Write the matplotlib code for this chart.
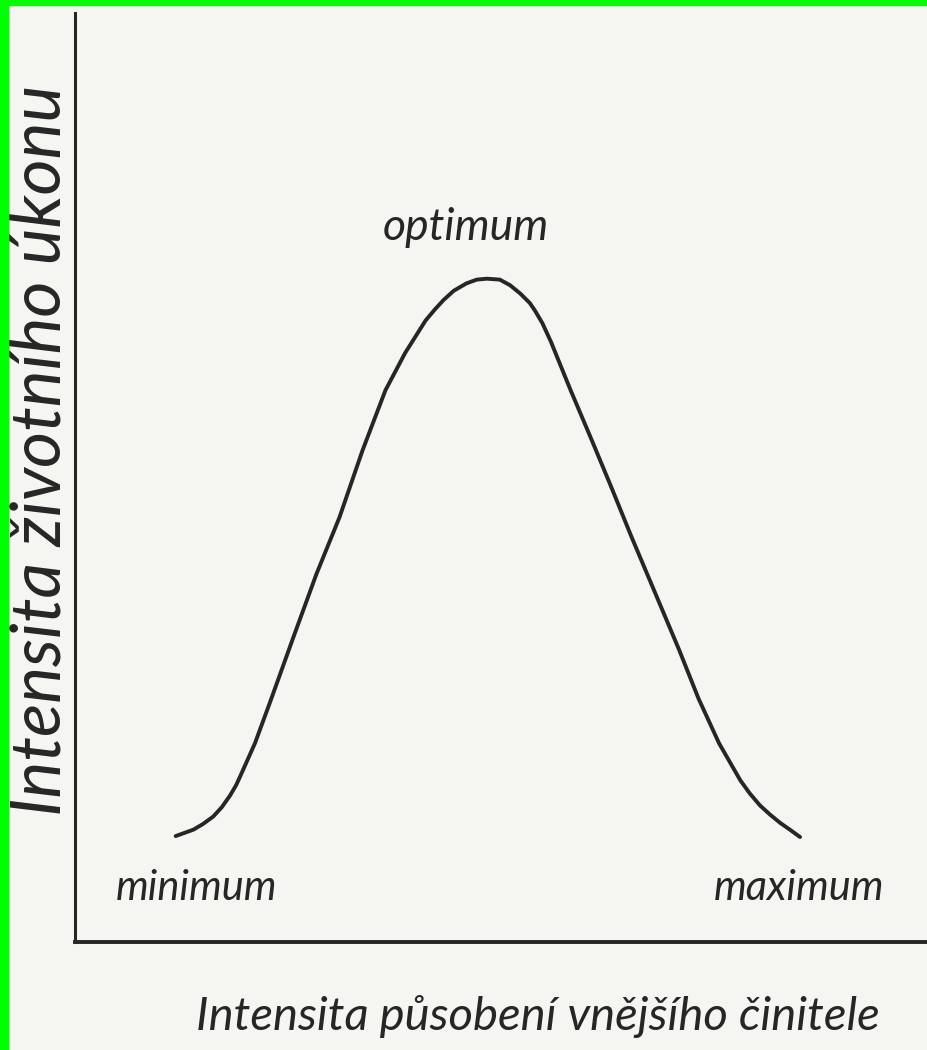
import matplotlib
matplotlib.use('Agg')
from matplotlib import pyplot as plt
from matplotlib.patches import Rectangle

# Curve (axis units 0-100 on both axes)
curveX = [11.8, 12.7, 13.9, 15.0, 16.2, 17.2, 18.2, 18.9, 19.4, 21.1, 22.9, 25.6, 28.3, 31.0,
          33.7, 36.4, 38.7, 41.1, 42.2, 43.2, 44.4, 45.9, 47.1, 48.3, 49.8, 51.0, 52.2, 53.3,
          53.9, 54.8, 55.8, 58.1, 60.5, 62.9, 65.2, 68.0, 70.8, 73.1, 75.5, 78.0, 79.1, 80.3,
          81.5, 82.7, 83.8, 85.0]
curveY = [11.4, 11.7, 12.1, 12.7, 13.5, 14.5, 15.8, 16.9, 17.9, 21.4, 25.9, 32.8, 39.6, 45.7,
          52.9, 59.4, 63.4, 66.9, 68.1, 69.1, 70.1, 70.9, 71.3, 71.4, 71.3, 70.7, 69.8, 68.8,
          68.0, 66.6, 64.6, 59.4, 54.2, 48.9, 43.7, 37.6, 31.5, 26.2, 21.4, 17.4, 16.0, 14.7,
          13.7, 12.8, 12.1, 11.3]

# Labels on the curve
pointLabels = ["minimum", "optimum", "maximum"]
pointX = [14.3, 45.8, 84.9]
pointY = [4.5, 75.6, 4.5]

xTitle = "Intensita působení vnějšího činitele"
yTitle = "Intensita životního úkonu"

paper = "#f5f5f1"
ink = "#262626"
font = ["Lato", "DejaVu Sans"]

fig = plt.figure(figsize=(9.28, 10.5), dpi=100, facecolor=paper)
ax = fig.add_axes([75 / 928, 108 / 1050, 853 / 928, 929 / 1050])
ax.set_facecolor(paper)

ax.plot(curveX, curveY, color=ink, linewidth=2.8, solid_capstyle="round", solid_joinstyle="round")

sizes = [30, 32, 30]
for label, x, y, s in zip(pointLabels, pointX, pointY, sizes):
    ax.text(x, y, label, ha="center", va="baseline", fontsize=s, style="italic",
            family=font, color=ink)

ax.set_xlim(0, 100)
ax.set_ylim(0, 100)
ax.set_xticks([])
ax.set_yticks([])
for side in ["top", "right"]:
    ax.spines[side].set_visible(False)
ax.spines["left"].set_linewidth(2.2)
ax.spines["bottom"].set_linewidth(2.8)
ax.spines["left"].set_color(ink)
ax.spines["bottom"].set_color(ink)

# Axis titles, hand-lettered look
fig.text(538 / 928, 20 / 1050, xTitle, ha="center", va="baseline", fontsize=34,
         style="italic", family=font, color=ink)
fig.text(42 / 928, 600 / 1050, yTitle, ha="center", va="center", rotation=90, fontsize=50,
         style="italic", family=font, color=ink)

# Green scan border (left and top)
fig.patches.append(Rectangle((0, 0), 8 / 928, 1, transform=fig.transFigure, color="#00ff00", zorder=10))
fig.patches.append(Rectangle((0, 1 - 5 / 1050), 1, 5 / 1050, transform=fig.transFigure, color="#00ff00", zorder=10))

fig.savefig("out.png", dpi=100, facecolor=paper)
